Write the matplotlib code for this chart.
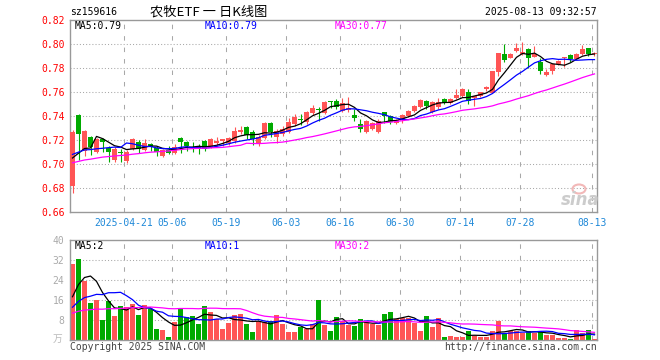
import matplotlib
matplotlib.use('Agg')
import matplotlib.pyplot as plt
from matplotlib.patches import Ellipse
import numpy as np
import pandas as pd

plt.rcParams['font.family'] = ['DejaVu Sans Mono', 'Noto Sans CJK SC']

# 日K数据 2025-04-08 ~ 2025-08-13
opens = [0.682, 0.741, 0.711, 0.7228, 0.710, 0.721, 0.7136, 0.7033, 0.710, 0.7025,
         0.7125, 0.718, 0.7117, 0.7167, 0.7136, 0.707, 0.7117, 0.709, 0.7214, 0.718,
         0.7144, 0.7153, 0.719, 0.7144, 0.7178, 0.7192, 0.7178, 0.7195, 0.7269, 0.7308,
         0.7264, 0.7167, 0.7214, 0.7342, 0.7228, 0.7247, 0.7269, 0.7331, 0.7375, 0.7353,
         0.7422, 0.7458, 0.7428, 0.7525, 0.7525, 0.7442, 0.745, 0.7408, 0.7333, 0.7269,
         0.7289, 0.7269, 0.743, 0.7403, 0.7339, 0.7367, 0.7403, 0.7442, 0.7478, 0.7525,
         0.7436, 0.7478, 0.7539, 0.7511, 0.7547, 0.7569, 0.7597, 0.7547, 0.7567, 0.7622,
         0.7594, 0.7769, 0.7917, 0.7886, 0.7944, 0.7914, 0.7958, 0.7894, 0.7847, 0.7742,
         0.7775, 0.7831, 0.7881, 0.7908, 0.7875, 0.7917, 0.7964, 0.7914]
closes = [0.727, 0.725, 0.7275, 0.7144, 0.721, 0.718, 0.7103, 0.7125, 0.709, 0.7103,
          0.7208, 0.7125, 0.7172, 0.7144, 0.7097, 0.7117, 0.7094, 0.7144, 0.7186, 0.7153,
          0.713, 0.7125, 0.7125, 0.7206, 0.7192, 0.7206, 0.7214, 0.7275, 0.7283, 0.7242,
          0.7208, 0.7228, 0.7342, 0.7269, 0.7275, 0.7292, 0.7347, 0.7394, 0.7367, 0.7436,
          0.7464, 0.745, 0.7517, 0.752, 0.7478, 0.7511, 0.7464, 0.7386, 0.7289, 0.7358,
          0.7339, 0.7358, 0.7403, 0.7347, 0.7367, 0.7408, 0.7442, 0.7483, 0.7533, 0.7483,
          0.752, 0.752, 0.7506, 0.7539, 0.7575, 0.7625, 0.7528, 0.7567, 0.7597, 0.7644,
          0.7775, 0.7922, 0.7867, 0.7917, 0.7964, 0.7936, 0.7886, 0.7917, 0.7775, 0.7764,
          0.7833, 0.7858, 0.7886, 0.7875, 0.7914, 0.7958, 0.7917, 0.792]
highs = [0.728, 0.742, 0.728, 0.7236, 0.722, 0.722, 0.7153, 0.714, 0.7125, 0.7117,
         0.722, 0.7197, 0.7208, 0.7175, 0.7147, 0.7125, 0.7147, 0.717, 0.7222, 0.719,
         0.718, 0.717, 0.7197, 0.7217, 0.7225, 0.7206, 0.7225, 0.7311, 0.7317, 0.7317,
         0.7283, 0.724, 0.735, 0.735, 0.729, 0.732, 0.738, 0.7414, 0.7417, 0.7442,
         0.7492, 0.7472, 0.7525, 0.7528, 0.7542, 0.7547, 0.7556, 0.7456, 0.7372, 0.7367,
         0.735, 0.7372, 0.7436, 0.7408, 0.7375, 0.7417, 0.745, 0.7492, 0.7542, 0.7533,
         0.7528, 0.7553, 0.7547, 0.7547, 0.7625, 0.7633, 0.7625, 0.757, 0.7603, 0.765,
         0.7775, 0.7922, 0.7997, 0.7922, 0.8011, 0.8014, 0.7964, 0.7983, 0.7881, 0.7792,
         0.7839, 0.7867, 0.7894, 0.7917, 0.7922, 0.7992, 0.797, 0.7933]
lows = [0.676, 0.703, 0.707, 0.7075, 0.709, 0.710, 0.7014, 0.702, 0.702, 0.7008,
        0.7117, 0.7089, 0.7108, 0.711, 0.7064, 0.706, 0.7083, 0.708, 0.7089, 0.711,
        0.7097, 0.7083, 0.711, 0.713, 0.7147, 0.715, 0.7158, 0.7172, 0.725, 0.7208,
        0.7158, 0.715, 0.7206, 0.7222, 0.7178, 0.7236, 0.726, 0.7319, 0.7325, 0.7333,
        0.7408, 0.7361, 0.7417, 0.747, 0.7458, 0.7431, 0.7436, 0.7361, 0.7269, 0.7258,
        0.7283, 0.7258, 0.7339, 0.733, 0.733, 0.7345, 0.7394, 0.7433, 0.747, 0.7461,
        0.7428, 0.7461, 0.7497, 0.7503, 0.7542, 0.7561, 0.75, 0.7486, 0.7558, 0.761,
        0.7589, 0.7736, 0.7853, 0.788, 0.7936, 0.7908, 0.7797, 0.7889, 0.7747, 0.7736,
        0.7747, 0.7825, 0.7811, 0.785, 0.7872, 0.7908, 0.7903, 0.7903]
volumes = [30.3, 32.4, 23.6, 14.9, 16.1, 8.0, 15.6, 9.6, 13.6, 13.1,
           14.5, 10.0, 14.0, 12.4, 4.4, 4.0, 1.2, 7.3, 12.9, 9.1,
           9.6, 6.4, 13.6, 11.3, 8.3, 4.4, 6.9, 10.0, 10.4, 6.4,
           3.3, 7.6, 7.3, 7.6, 10.0, 6.4, 3.3, 3.3, 5.3, 4.3,
           6.3, 16.0, 6.0, 3.6, 9.3, 7.7, 6.0, 5.6, 8.4, 7.3,
           6.3, 6.0, 10.4, 11.3, 8.3, 8.7, 8.7, 6.9, 3.7, 9.6,
           5.3, 8.9, 1.3, 1.6, 1.3, 1.3, 3.7, 1.6, 1.3, 1.3,
           3.7, 7.7, 2.3, 3.6, 3.7, 2.7, 3.6, 2.9, 3.1, 2.0,
           2.0, 0.9, 0.9, 0.4, 4.0, 2.9, 4.0, 0.4]

# 图左边之前的29个交易日, 只用来让均线从图中的起点开始
prior_closes = [0.690, 0.692, 0.694, 0.695, 0.693, 0.696, 0.698, 0.697, 0.699, 0.700,
                0.698, 0.697, 0.699, 0.701, 0.700, 0.698, 0.699, 0.700, 0.701, 0.703,
                0.706, 0.709, 0.712, 0.714, 0.714, 0.705, 0.708, 0.712, 0.673]
prior_volumes = [9.0, 10.2, 9.4, 9.8, 8.9, 9.6, 10.1, 9.3, 9.7, 9.5,
                 9.2, 9.9, 9.4, 9.6, 9.1, 9.8, 9.3, 9.7, 9.5, 9.9,
                 9.0, 8.5, 9.2, 8.8, 9.1, 8.0, 9.5, 12.0, 26.7]

date_idx = [9, 17, 26, 36, 45, 55, 65, 75, 87]
date_labels = ['2025-04-21', '05-06', '05-19', '06-03', '06-16', '06-30', '07-14', '07-28', '08-13']
price_ticks = [0.66, 0.68, 0.70, 0.72, 0.74, 0.76, 0.78, 0.80, 0.82]
vol_ticks = [8, 16, 24, 32, 40]
# 图上显示的均线数值
price_legend = ['MA5:0.79', 'MA10:0.79', 'MA30:0.77']
vol_legend = ['MA5:2', 'MA10:1', 'MA30:2']

RED = '#ff5555'
GREEN = '#00aa00'
GRID = '#a8a8a8'
FRAME = '#999999'
DATE_BLUE = '#1e88d8'

n = len(closes)
x = np.arange(n)
o, c, h, l = map(np.array, (opens, closes, highs, lows))
colors = np.where(c >= o, RED, GREEN)

close_all = pd.Series(prior_closes + closes)
vol_all = pd.Series(prior_volumes + volumes)
ma = {w: close_all.rolling(w).mean().values[-n:] for w in (5, 10, 30)}
vma = {w: vol_all.rolling(w).mean().values[-n:] for w in (5, 10, 30)}
ma_colors = {5: 'black', 10: '#0000ff', 30: '#ff00ff'}

W, H = 660, 360
fig = plt.figure(figsize=(6.6, 3.6), dpi=100)
ax1 = fig.add_axes([70 / W, 1 - 212 / H, 527 / W, 192 / H])
ax2 = fig.add_axes([70 / W, 1 - 340 / H, 527 / W, 100 / H])

for ax in (ax1, ax2):
    ax.set_xlim(-0.417, n - 0.583)
    for s in ax.spines.values():
        s.set_color(FRAME)
        s.set_linewidth(1.0)
    for i in date_idx:
        ax.axvline(i - 0.42, color=GRID, lw=0.75, ls=(0, (4.3, 6.7)), zorder=0)
    ax.tick_params(length=0)

# K线
ax1.vlines(x, l, h, colors=colors, lw=0.8, zorder=2)
ax1.bar(x, np.maximum(np.abs(c - o), 0.0009), 0.8, bottom=np.minimum(o, c),
        color=colors, linewidth=0, zorder=3)
for w in (5, 10, 30):
    ax1.plot(x, ma[w], color=ma_colors[w], lw=0.9, zorder=4)

ax1.set_ylim(0.66, 0.82)
ax1.set_yticks(price_ticks)
ax1.set_yticklabels([f'{t:.2f}' for t in price_ticks], color='red', fontsize=7)
for t in price_ticks[1:-1]:
    ax1.axhline(t, color=GRID, lw=0.75, ls=(0, (1, 2)), zorder=0)
ax1.set_xticks([i - 0.42 for i in date_idx])
ax1.set_xticklabels(date_labels, color=DATE_BLUE, fontsize=7)
ax1.tick_params(axis='y', pad=4)
ax1.tick_params(axis='x', pad=4)

# 成交量
ax2.bar(x, volumes, 0.85, color=colors, linewidth=0, zorder=2)
for w in (5, 10, 30):
    ax2.plot(x, vma[w], color=ma_colors[w], lw=0.9, zorder=3)
ax2.set_ylim(0, 40)
ax2.set_yticks(vol_ticks)
ax2.set_yticklabels([str(t) for t in vol_ticks], color='#aaaaaa', fontsize=7)
for t in vol_ticks[:-1]:
    ax2.axhline(t, color=GRID, lw=0.75, ls=(0, (1, 2)), zorder=0)
ax2.set_xticks([])
ax2.tick_params(axis='y', pad=4)


def px(xp, yp, s, **kw):
    fig.text(xp / W, 1 - yp / H, s, va='center', **kw)


px(70, 12, 'sz159616', fontsize=7)
px(209, 12, '农牧ETF 一 日K线图', fontsize=9.5, ha='center', family='Noto Sans CJK SC')
px(597, 12, '2025-08-13 09:32:57', fontsize=7, ha='right')

for xp, s, w in zip((75, 205, 335), price_legend, (5, 10, 30)):
    px(xp, 26, s, fontsize=7, color=ma_colors[w])
for xp, s, w in zip((75, 205, 335), vol_legend, (5, 10, 30)):
    px(xp, 246, s, fontsize=7, color=ma_colors[w])

px(58, 339, '万', fontsize=7, color='#bbbbbb', ha='center', family='Noto Sans CJK SC')
px(70, 347, 'Copyright 2025 SINA.COM', fontsize=7, color='#444444')
px(597, 347, 'http://finance.sina.com.cn', fontsize=7, color='#444444', ha='right')

# 新浪水印
fig.patches.append(Ellipse((579 / W, 1 - 189 / H), 13 / W, 9 / H, transform=fig.transFigure,
                           fill=False, edgecolor='#f2b8b8', lw=1.5))
px(580, 200, 'sina', fontsize=12, color='#cccccc', ha='center', style='italic',
   weight='bold', family='DejaVu Sans')

fig.savefig('out.png', dpi=100)
